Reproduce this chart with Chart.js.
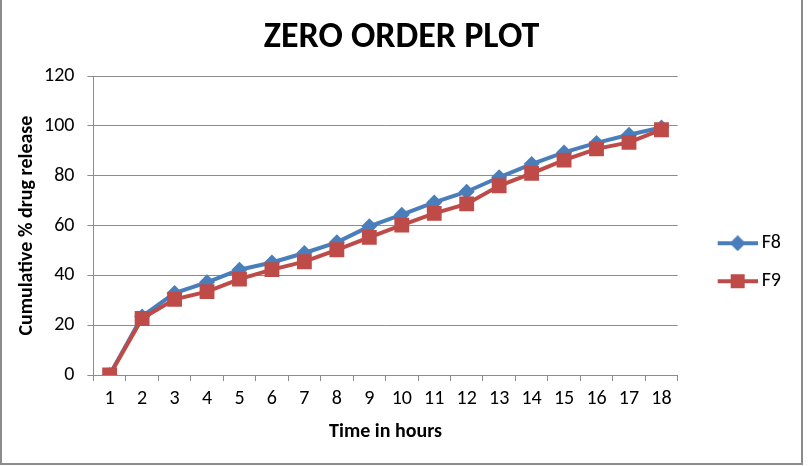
<!DOCTYPE html>
<html>
<head>
<meta charset="utf-8">
<script src="https://cdn.jsdelivr.net/npm/chart.js@4/dist/chart.umd.min.js"></script>
<style>
  body { margin: 0; background: #fff; }
  #wrap { position: relative; width: 809px; height: 466px; }
  #frame { position: absolute; left: 0; top: -2px; width: 803px; height: 467px; box-sizing: border-box; border: 2px solid #8c8c8c; pointer-events: none; }
</style>
</head>
<body>
<div id="wrap">
  <canvas id="zeroplot" width="809" height="466"></canvas>
  <div id="frame"></div>
</div>
<script>
const hours = ["1", "2", "3", "4", "5", "6", "7", "8", "9", "10", "11", "12", "13", "14", "15", "16", "17", "18"];
const f8Release = [0, 23.5, 32.9, 37.2, 42.3, 45.2, 49, 53.3, 59.7, 64.4, 69.3, 73.6, 79.4, 84.7, 89.4, 93.2, 96.5, 99.4];
const f9Release = [0, 22.7, 30.4, 33.5, 38.5, 42.3, 45.5, 50.3, 55.3, 60.2, 64.9, 68.7, 76, 81, 86.3, 90.8, 93.4, 98.5];
const yTicks = [0, 20, 40, 60, 80, 100, 120];

const blue = "#4a7ebb";
const red = "#be4b48";
const calibri = "Carlito, 'Open Sans', sans-serif";

// line + marker sample for the legend, like the spreadsheet one
function legendIcon(color, shape) {
  const c = document.createElement("canvas");
  c.width = 68;
  c.height = 16;
  const g = c.getContext("2d");
  g.strokeStyle = color;
  g.lineWidth = 4;
  g.beginPath();
  g.moveTo(28, 8);
  g.lineTo(68, 8);
  g.stroke();
  g.fillStyle = color;
  if (shape === "rect") {
    g.fillRect(41, 1, 14, 14);
  } else {
    g.beginPath();
    g.moveTo(48, 0);
    g.lineTo(56, 8);
    g.lineTo(48, 16);
    g.lineTo(40, 8);
    g.closePath();
    g.fill();
  }
  return c;
}

const ctx = document.getElementById("zeroplot").getContext("2d");
new Chart(ctx, {
  type: "line",
  data: {
    labels: hours,
    datasets: [
      {
        label: "F8",
        data: f8Release,
        borderColor: blue,
        backgroundColor: blue,
        borderWidth: 4,
        pointStyle: "rectRot",
        pointRadius: 8,
        pointBorderWidth: 0,
        order: 1
      },
      {
        label: "F9",
        data: f9Release,
        borderColor: red,
        backgroundColor: red,
        borderWidth: 4,
        pointStyle: "rect",
        pointRadius: 10.5,
        pointBorderWidth: 0,
        order: 0
      }
    ]
  },
  options: {
    responsive: false,
    animation: false,
    layout: { padding: { left: 12, right: 18, top: 8, bottom: 22 } },
    plugins: {
      tooltip: { enabled: false },
      title: {
        display: true,
        text: "ZERO ORDER PLOT",
        color: "#000",
        font: { family: calibri, size: 36, weight: "bold" },
        padding: { top: 8, bottom: 17 }
      },
      legend: {
        position: "right",
        align: "center",
        title: { display: true, text: "", font: { size: 2 }, padding: { top: 70, bottom: 0 } },
        labels: {
          color: "#000",
          font: { family: calibri, size: 20 },
          usePointStyle: true,
          pointStyleWidth: 56,
          padding: 18,
          generateLabels: (chart) => chart.data.datasets.map((ds, i) => ({
            text: ds.label,
            fillStyle: ds.borderColor,
            strokeStyle: ds.borderColor,
            fontColor: "#000",
            lineWidth: 0,
            pointStyle: legendIcon(ds.borderColor, i === 0 ? "rectRot" : "rect"),
            datasetIndex: i,
            hidden: false
          }))
        }
      }
    },
    scales: {
      x: {
        offset: true,
        grid: {
          offset: true,
          drawOnChartArea: false,
          color: "#8c8c8c",
          tickLength: 6
        },
        border: { color: "#8c8c8c", width: 1 },
        ticks: { color: "#000", font: { family: calibri, size: 20 }, padding: 6, maxRotation: 0, autoSkip: false },
        title: {
          display: true,
          text: "Time in hours",
          color: "#000",
          font: { family: calibri, size: 20, weight: "bold" },
          padding: { top: 3, bottom: 0 }
        }
      },
      y: {
        min: 0,
        max: 120,
        afterBuildTicks: (axis) => { axis.ticks = yTicks.map(v => ({ value: v })); },
        grid: { color: "#8c8c8c", tickLength: 6 },
        border: { color: "#8c8c8c", width: 1 },
        ticks: { color: "#000", font: { family: calibri, size: 20 }, padding: 13 },
        title: {
          display: true,
          text: "Cumulative % drug release",
          color: "#000",
          font: { family: calibri, size: 20, weight: "bold" },
          padding: { top: 3, bottom: -8 }
        }
      }
    }
  }
});
</script>
</body>
</html>
